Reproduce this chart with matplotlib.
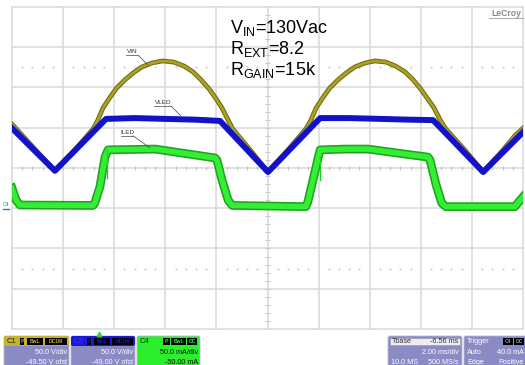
import numpy as np
import matplotlib
matplotlib.use("Agg")
import matplotlib.pyplot as plt
from matplotlib.patches import FancyBboxPatch, Rectangle

plt.rcParams['font.family'] = ['Liberation Sans', 'DejaVu Sans']
plt.rcParams['mathtext.fontset'] = 'custom'
plt.rcParams['mathtext.rm'] = 'Liberation Sans'

W, H = 525, 365

# =========================
# TRACES (screen divisions: x 0..10, y -4..4)
# =========================
vin_x = [0, 0.41, 0.84, 1.23, 1.585, 1.68, 1.78, 1.92, 2.05, 2.21, 2.37, 2.54, 2.74, 2.95,
         3.17, 3.37, 3.54, 3.70, 3.86, 4.00, 4.11, 4.23, 4.32, 4.66, 5.01,
         5.40, 5.75, 5.85, 5.95, 6.09, 6.22, 6.38, 6.54, 6.71, 6.91, 7.10,
         7.32, 7.51, 7.69, 7.85, 8.00, 8.14, 8.26, 8.38, 8.49, 8.86, 9.22,
         9.61, 9.84, 10]
vin_y = [1.09, 0.52, -0.07, 0.45, 0.97, 1.19, 1.49, 1.76, 1.99, 2.19, 2.36, 2.51, 2.61, 2.66,
         2.63, 2.53, 2.39, 2.19, 1.96, 1.71, 1.49, 1.19, 0.97, 0.45, -0.10,
         0.45, 0.97, 1.19, 1.49, 1.76, 1.99, 2.19, 2.36, 2.51, 2.61, 2.66,
         2.63, 2.53, 2.39, 2.19, 1.96, 1.71, 1.49, 1.19, 0.97, 0.45, -0.10,
         0.45, 0.80, 0.99]

vled_x = [0, 0.84, 1.84, 2.4, 3.0, 3.6, 4.07, 5.01, 6.03, 6.6, 7.2, 7.8, 8.24, 9.22, 10]
vled_y = [0.99, -0.07, 1.22, 1.24, 1.22, 1.20, 1.17, -0.10, 1.24, 1.24, 1.22, 1.20, 1.19, -0.10, 0.89]

iled_x = [0, 0.08, 0.157, 1.585, 1.62, 1.72, 1.82, 1.88, 2.31, 2.80, 3.39, 3.97, 4.01, 4.11,
          4.23, 4.31, 5.75, 5.79, 5.89, 5.99, 6.03, 6.52, 6.97, 7.55, 8.14, 8.18, 8.30,
          8.41, 8.49, 9.84, 10]
iled_y = [-0.50, -0.80, -0.92, -0.93, -0.87, -0.47, 0.27, 0.45, 0.46, 0.47, 0.36, 0.25, 0.20, -0.30,
          -0.80, -0.93, -0.96, -0.84, -0.30, 0.25, 0.45, 0.47, 0.47, 0.37, 0.27, 0.20, -0.42,
          -0.87, -0.96, -0.96, -0.72]

spike_x = [1.86, 1.86, np.nan, 6.02, 6.02]
spike_y = [0.45, -0.25, np.nan, 0.27, -0.30]

fig = plt.figure(figsize=(W / 100, H / 100), dpi=100)
fig.patch.set_facecolor('white')

# =========================
# GRATICULE
# =========================
ax = fig.add_axes([12 / W, 1 - 329 / H, 511 / W, 322 / H])
ax.set_xlim(0, 10)
ax.set_ylim(-4, 4)
ax.axis('off')

gcol = '#d8d8d8'
for i in range(11):
    ax.axvline(i, color=gcol, lw=1.1, clip_on=False, zorder=1)
for j in range(-4, 5):
    ax.axhline(j, color=gcol, lw=1.1, clip_on=False, zorder=1)

minor = np.round(np.arange(0.2, 10, 0.2), 2)
ax.vlines(minor, -0.06, 0.06, color='#c8c8c8', lw=0.8, zorder=1)
ax.hlines(np.round(np.arange(-3.8, 4, 0.2), 2), 4.95, 5.05, color='#c8c8c8', lw=0.8, zorder=1)
dots = minor[np.abs(minor - np.round(minor)) > 0.05]
for yd in (2.5, -2.5):
    ax.plot(dots, np.full(len(dots), yd), ls='none', marker='o', ms=0.6,
            color='#d2d2d2', zorder=1)

# =========================
# TRACES
# =========================
ax.plot(iled_x, iled_y, color='#1ea41e', lw=6.3, solid_joinstyle='round', zorder=3)
ax.plot(iled_x, iled_y, color='#34ee34', lw=4.0, solid_joinstyle='round', zorder=3)
ax.plot(spike_x, spike_y, color='#22cc22', lw=0.9, zorder=3)

ax.plot(vin_x, vin_y, color='#6f6a10', lw=3.4, solid_joinstyle='round', zorder=4)
ax.plot(vin_x, vin_y, color='#aaa226', lw=1.9, solid_joinstyle='round', zorder=4)

ax.plot(vled_x, vled_y, color='#1212c8', lw=4.3, solid_joinstyle='round', zorder=5)

# trace labels with leader lines
lab = dict(fontsize=4.6, color='#333333', ha='center', va='center', zorder=6)
ax.text(2.35, 2.90, 'VIN', **lab)
ax.plot([2.23, 2.47], [2.80, 2.80], color='#444444', lw=0.5, zorder=6)
ax.plot([2.47, 2.66], [2.80, 2.56], color='#444444', lw=0.5, zorder=6)
ax.text(2.95, 1.63, 'VLED', **lab)
ax.plot([2.78, 3.12], [1.53, 1.53], color='#444444', lw=0.5, zorder=6)
ax.plot([3.12, 3.30], [1.53, 1.30], color='#444444', lw=0.5, zorder=6)
ax.text(2.25, 0.89, 'ILED', **lab)
ax.plot([2.13, 2.37], [0.80, 0.80], color='#444444', lw=0.5, zorder=6)
ax.plot([2.37, 2.70], [0.80, 0.50], color='#444444', lw=0.5, zorder=6)

# =========================
# OVERLAY (annotation text and scope status panel, pixel coords)
# =========================
pan = fig.add_axes([0, 0, 1, 1])
pan.set_xlim(0, W)
pan.set_ylim(H, 0)
pan.axis('off')
pan.patch.set_alpha(0)

pan.text(230, 33, r'V$_\mathrm{IN}$=130Vac', fontsize=13, va='baseline', color='black')
pan.text(230, 54, r'R$_\mathrm{EXT}$=8.2', fontsize=13, va='baseline', color='black')
pan.text(230, 75, r'R$_\mathrm{GAIN}$=15k', fontsize=13, va='baseline', color='black')

pan.text(506, 13.5, 'LeCroy', fontsize=6.2, color='#8a8a8a', ha='center', va='center',
         fontweight='bold')
pan.plot([489, 523], [18, 18], color='#9a9a9a', lw=0.6)

pan.text(6, 204, 'C4', fontsize=3.8, color='#2a8a6a', ha='center', va='center')
pan.plot([3, 9], [208.5, 208.5], color='#2a7ab0', lw=1.0)

pan.plot(99, 334, marker='^', color='#22dd22', ms=3.2)

body = '#8a8ac4'
edge = '#b8b8d4'


def box(x0, x1, fc):
    pan.add_patch(FancyBboxPatch((x0, 336), x1 - x0, 34, boxstyle='round,pad=0,rounding_size=2',
                                 fc=fc, ec=edge, lw=0.6))


def header(x0, x1, fc):
    pan.add_patch(FancyBboxPatch((x0, 336), x1 - x0, 10, boxstyle='round,pad=0,rounding_size=2',
                                 fc=fc, ec='none'))


def tag(x0, x1, s, color):
    pan.add_patch(Rectangle((x0, 337.5), x1 - x0, 7, fc='black', ec='none'))
    pan.text((x0 + x1) / 2, 341.2, s, color=color, fontsize=3.6, ha='center', va='center',
             fontweight='bold')


txt = dict(fontsize=5.2, va='center')

# C1
box(4, 69, body)
header(4, 69, '#c6b22c')
pan.text(7, 341.2, 'C1', fontsize=5.5, color='#222222', va='center')
tag(20, 24, 'P', '#c6b22c')
tag(27, 43, 'BwL', '#c6b22c')
tag(45, 67, 'DC1M', '#c6b22c')
pan.text(67, 353, '50.0 V/div', ha='right', color='white', **txt)
pan.text(67, 362, '-49.50 V ofst', ha='right', color='white', **txt)

# C2
box(71, 135, body)
header(71, 135, '#1a1ad6')
pan.text(74, 341.2, 'C2', fontsize=5.5, color='#3838ff', va='center')
tag(87, 91, 'P', '#1a1ad6')
tag(94, 110, 'BwL', '#1a1ad6')
tag(112, 133, 'DC1M', '#1a1ad6')
pan.text(133, 353, '50.0 V/div', ha='right', color='white', **txt)
pan.text(133, 362, '-49.00 V ofst', ha='right', color='white', **txt)

# C4
box(137, 200, '#2cee2c')
pan.text(140, 341.2, 'C4', fontsize=5.5, color='#222222', va='center')
tag(163, 170, 'P', '#2cee2c')
tag(171, 186, 'BwL', '#2cee2c')
tag(187, 197, 'DC', '#2cee2c')
pan.text(198, 352, '50.0 mA/div', ha='right', color='#111111', **txt)
pan.text(198, 362, '-50.00 mA', ha='right', color='#111111', **txt)

# Tbase
box(388, 462, body)
pan.add_patch(Rectangle((390, 337.5), 70, 7.5, fc='#ececf2', ec='#9a9ab8', lw=0.5))
pan.text(392, 341.2, 'Tbase', ha='left', color='#333333', **txt)
pan.text(458, 341.2, '-6.56 ms', ha='right', color='#333333', **txt)
pan.text(459, 353, '2.00 ms/div', ha='right', color='white', **txt)
pan.text(391, 362, '10.0 MS', ha='left', color='white', **txt)
pan.text(459, 362, '500 MS/s', ha='right', color='white', **txt)

# Trigger
box(464, 532, body)
pan.text(467, 341.2, 'Trigger', ha='left', color='white', **txt)
tag(503, 513, 'C4', body)
tag(514, 524, 'DC', body)
pan.text(467, 353, 'Auto', ha='left', color='white', **txt)
pan.text(524, 353, '40.0 mA', ha='right', color='white', **txt)
pan.text(467, 362, 'Edge', ha='left', color='white', **txt)
pan.text(524, 362, 'Positive', ha='right', color='white', **txt)

fig.savefig('out.png', dpi=100)
